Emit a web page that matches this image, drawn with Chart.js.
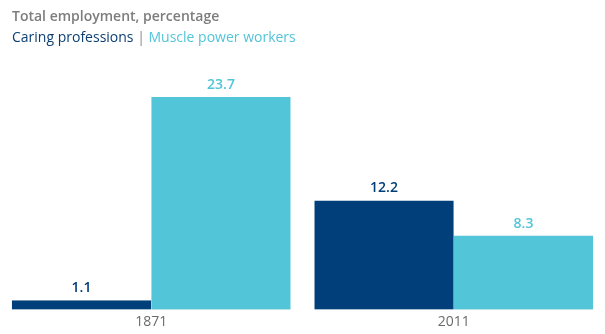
<!DOCTYPE html>
<html>
<head>
<meta charset="utf-8">
<script src="https://cdn.jsdelivr.net/npm/chart.js@4"></script>
<style>
  body { margin: 0; background: #fff; }
  #wrap { position: relative; width: 605px; height: 334px; font-family: "Open Sans", sans-serif; }
  #title { position: absolute; left: 12px; top: 6px; font-size: 14px; font-weight: 600; color: #7d7d7d; }
  #legend { position: absolute; left: 12px; top: 27px; font-size: 14px; }
  #legend .a { color: #0a3f73; }
  #legend .sep { color: #8a8a8a; }
  #legend .b { color: #52c4d8; }
  canvas { position: absolute; left: 0; top: 0; }
</style>
</head>
<body>
<div id="wrap">
  <canvas id="chart" width="605" height="334"></canvas>
  <div id="title">Total employment, percentage</div>
  <div id="legend"><span class="a">Caring professions</span> <span class="sep">|</span> <span class="b">Muscle power workers</span></div>
</div>
<script>
const years = ['1871', '2011'];
const caring = [1.1, 12.2];
const muscle = [23.7, 8.3];
const seriesNames = ['Caring professions', 'Muscle power workers'];
const colors = ['#003f7a', '#52c5d8'];

const valueLabels = {
  id: 'valueLabels',
  afterDatasetsDraw(chart) {
    const ctx = chart.ctx;
    ctx.save();
    ctx.font = '600 14px "Open Sans", sans-serif';
    ctx.textAlign = 'center';
    ctx.textBaseline = 'bottom';
    chart.data.datasets.forEach((ds, i) => {
      chart.getDatasetMeta(i).data.forEach((bar, j) => {
        ctx.fillStyle = colors[i];
        ctx.fillText(ds.data[j].toFixed(1), bar.x, bar.y - 5);
      });
    });
    ctx.restore();
  }
};

new Chart(document.getElementById('chart').getContext('2d'), {
  type: 'bar',
  data: {
    labels: years,
    datasets: [
      { label: seriesNames[0], data: caring, backgroundColor: colors[0] },
      { label: seriesNames[1], data: muscle, backgroundColor: colors[1] }
    ]
  },
  options: {
    responsive: false,
    animation: false,
    layout: { padding: { top: 97, bottom: 1, left: 0, right: 0 } },
    datasets: {
      bar: {
        categoryPercentage: 0.922,
        barPercentage: 1,
        borderSkipped: false,
        borderWidth: { top: 0, left: 0, right: 0, bottom: 1 },
        borderColor: '#d3e6ee'
      }
    },
    plugins: { legend: { display: false }, tooltip: { enabled: false } },
    scales: {
      x: {
        grid: { display: false, drawTicks: false },
        border: { display: false },
        ticks: { color: '#6b6b6b', font: { family: 'Open Sans', size: 14 }, padding: 3 }
      },
      y: { display: false, min: 0, max: 23.7 }
    }
  },
  plugins: [valueLabels]
});
</script>
</body>
</html>
